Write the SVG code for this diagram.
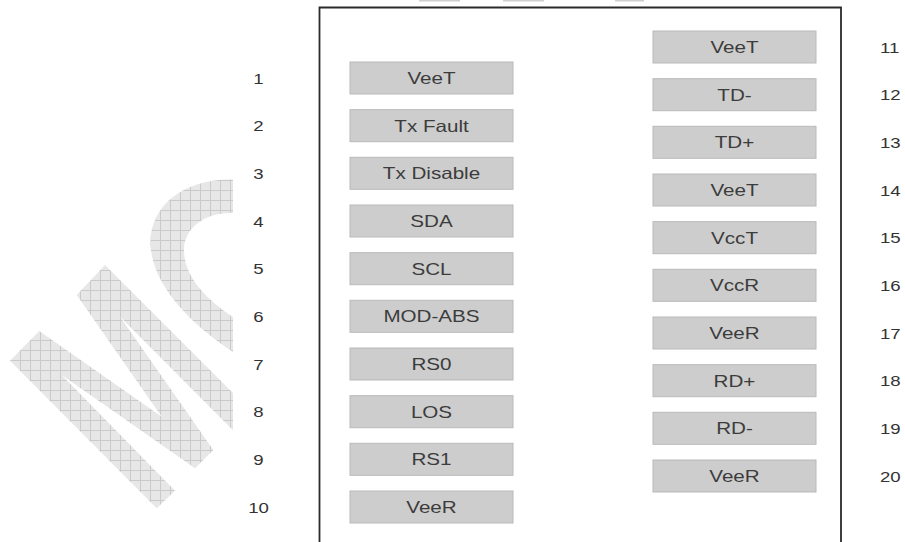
<svg xmlns="http://www.w3.org/2000/svg" width="905" height="542" viewBox="0 0 905 542">
  <style>
    .pin rect { fill: #cdcdcd; stroke: #b9b9b9; stroke-width: 1; }
    .pin text { font-family: "Liberation Sans", Arial, sans-serif; font-size: 16.5px; fill: #3c3c3c; text-anchor: middle; }
    .num text { font-family: "Liberation Sans", Arial, sans-serif; font-size: 15.5px; fill: #333333; }
    .numL text { text-anchor: middle; }
    .numR text { text-anchor: start; }
  </style>
  <defs>
    <pattern id="hatch" width="10" height="10" patternUnits="userSpaceOnUse">
      <rect width="10" height="10" fill="#e7e7e7"/>
      <path d="M0 0.5H10M0.5 0V10" stroke="#cacaca" stroke-width="1"/>
    </pattern>
    <clipPath id="wmclip">
      <rect x="0" y="0" width="233" height="542"/>
    </clipPath>
  </defs>
  <rect width="905" height="542" fill="#ffffff"/>

  <!-- watermark -->
  <g id="watermark" clip-path="url(#wmclip)" fill="url(#hatch)">
    <polygon points="10,360.7 39.3,331 161.7,416.7 76.7,295 105,265 251,411 232.7,430 120,316.7 213.3,450 195,468.3 61.7,375 175,490.7 156.7,508.3"/>
    <path d="M233,179.5 C185,178 150,205 150.5,243 C151,285 192,325 233,352 L233,317 C207,300 184,277 184,250 C184,228 205,212 233,213 Z"/>
  </g>

  <!-- small marks at top -->
  <g id="top-marks" fill="#cfcfcf">
    <rect x="419" y="0" width="41" height="1.5"/>
    <rect x="503" y="0" width="41" height="1.5"/>
    <rect x="615" y="0" width="29" height="1.5"/>
  </g>

  <!-- module outline -->
  <g id="module">
    <path d="M319.5,542 V7.5 H841 V542" fill="none" stroke="#2a2a2a" stroke-width="1.8"/>
  </g>

  <!-- left pins -->
  <g id="pin1" class="pin"><rect x="350" y="62" width="163" height="32"/><text transform="translate(431.5 83.8) scale(1.25 1)">VeeT</text></g>
  <g id="pin2" class="pin"><rect x="350" y="109.7" width="163" height="32"/><text transform="translate(431.5 131.5) scale(1.25 1)">Tx Fault</text></g>
  <g id="pin3" class="pin"><rect x="350" y="157.3" width="163" height="32"/><text transform="translate(431.5 179.1) scale(1.25 1)">Tx Disable</text></g>
  <g id="pin4" class="pin"><rect x="350" y="205" width="163" height="32"/><text transform="translate(431.5 226.8) scale(1.25 1)">SDA</text></g>
  <g id="pin5" class="pin"><rect x="350" y="252.7" width="163" height="32"/><text transform="translate(431.5 274.5) scale(1.25 1)">SCL</text></g>
  <g id="pin6" class="pin"><rect x="350" y="300.3" width="163" height="32"/><text transform="translate(431.5 322.1) scale(1.25 1)">MOD-ABS</text></g>
  <g id="pin7" class="pin"><rect x="350" y="348" width="163" height="32"/><text transform="translate(431.5 369.8) scale(1.25 1)">RS0</text></g>
  <g id="pin8" class="pin"><rect x="350" y="395.7" width="163" height="32"/><text transform="translate(431.5 417.5) scale(1.25 1)">LOS</text></g>
  <g id="pin9" class="pin"><rect x="350" y="443.3" width="163" height="32"/><text transform="translate(431.5 465.1) scale(1.25 1)">RS1</text></g>
  <g id="pin10" class="pin"><rect x="350" y="491" width="163" height="32"/><text transform="translate(431.5 512.8) scale(1.25 1)">VeeR</text></g>

  <!-- right pins -->
  <g id="pin11" class="pin"><rect x="653" y="31" width="163" height="32"/><text transform="translate(734.5 52.8) scale(1.25 1)">VeeT</text></g>
  <g id="pin12" class="pin"><rect x="653" y="78.7" width="163" height="32"/><text transform="translate(734.5 100.5) scale(1.25 1)">TD-</text></g>
  <g id="pin13" class="pin"><rect x="653" y="126.3" width="163" height="32"/><text transform="translate(734.5 148.1) scale(1.25 1)">TD+</text></g>
  <g id="pin14" class="pin"><rect x="653" y="174" width="163" height="32"/><text transform="translate(734.5 195.8) scale(1.25 1)">VeeT</text></g>
  <g id="pin15" class="pin"><rect x="653" y="221.7" width="163" height="32"/><text transform="translate(734.5 243.5) scale(1.25 1)">VccT</text></g>
  <g id="pin16" class="pin"><rect x="653" y="269.3" width="163" height="32"/><text transform="translate(734.5 291.1) scale(1.25 1)">VccR</text></g>
  <g id="pin17" class="pin"><rect x="653" y="317" width="163" height="32"/><text transform="translate(734.5 338.8) scale(1.25 1)">VeeR</text></g>
  <g id="pin18" class="pin"><rect x="653" y="364.7" width="163" height="32"/><text transform="translate(734.5 386.5) scale(1.25 1)">RD+</text></g>
  <g id="pin19" class="pin"><rect x="653" y="412.3" width="163" height="32"/><text transform="translate(734.5 434.1) scale(1.25 1)">RD-</text></g>
  <g id="pin20" class="pin"><rect x="653" y="460" width="163" height="32"/><text transform="translate(734.5 481.8) scale(1.25 1)">VeeR</text></g>

  <!-- pin numbers -->
  <g id="numbers-left" class="num numL">
    <text transform="translate(258.5 83.6) scale(1.2 1)">1</text>
    <text transform="translate(258.5 131.3) scale(1.2 1)">2</text>
    <text transform="translate(258.5 178.9) scale(1.2 1)">3</text>
    <text transform="translate(258.5 226.6) scale(1.2 1)">4</text>
    <text transform="translate(258.5 274.3) scale(1.2 1)">5</text>
    <text transform="translate(258.5 321.9) scale(1.2 1)">6</text>
    <text transform="translate(258.5 369.6) scale(1.2 1)">7</text>
    <text transform="translate(258.5 417.3) scale(1.2 1)">8</text>
    <text transform="translate(258.5 464.9) scale(1.2 1)">9</text>
    <text transform="translate(258.5 512.6) scale(1.2 1)">10</text>
  </g>
  <g id="numbers-right" class="num numR">
    <text transform="translate(880 52.6) scale(1.2 1)">11</text>
    <text transform="translate(880 100.3) scale(1.2 1)">12</text>
    <text transform="translate(880 147.9) scale(1.2 1)">13</text>
    <text transform="translate(880 195.6) scale(1.2 1)">14</text>
    <text transform="translate(880 243.3) scale(1.2 1)">15</text>
    <text transform="translate(880 290.9) scale(1.2 1)">16</text>
    <text transform="translate(880 338.6) scale(1.2 1)">17</text>
    <text transform="translate(880 386.3) scale(1.2 1)">18</text>
    <text transform="translate(880 433.9) scale(1.2 1)">19</text>
    <text transform="translate(880 481.6) scale(1.2 1)">20</text>
  </g>
</svg>
